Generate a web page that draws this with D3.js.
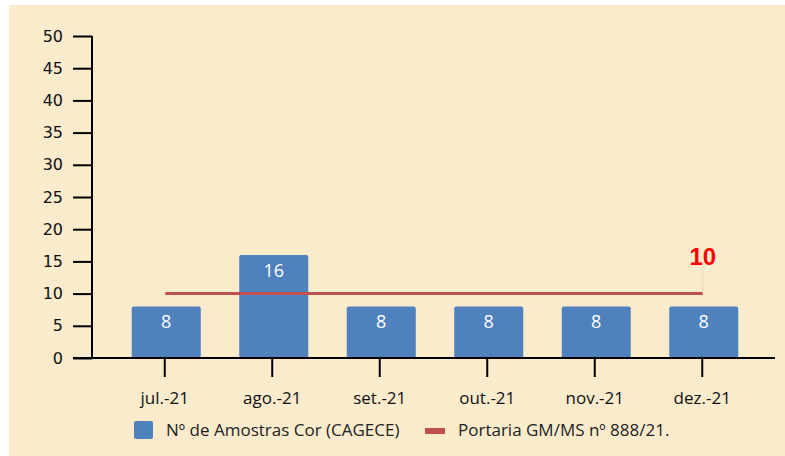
<!DOCTYPE html>
<html><head><meta charset="utf-8">
<script src="https://cdn.jsdelivr.net/npm/d3@7"></script>
<style>
html,body{margin:0;padding:0;background:#fff;}
svg{display:block;}
</style></head>
<body>
<svg id="chart" width="785" height="456"></svg>
<script>
const categories = ["jul.-21","ago.-21","set.-21","out.-21","nov.-21","dez.-21"];
const amostras = [8,16,8,8,8,8];
const portaria = [10,10,10,10,10,10];
const yTicks = [0,5,10,15,20,25,30,35,40,45,50];
const seriesNames = ["Nº de Amostras Cor (CAGECE)","Portaria GM/MS nº 888/21."];
const limitLabel = "10";

const svg = d3.select("#chart");
svg.append("rect").attr("x",9).attr("y",5).attr("width",776).attr("height",451).attr("fill","#FAEBCD");

const x = d3.scaleBand().domain(categories).range([112.5,757.5]).paddingInner(0.358).paddingOuter(0.179);
const y = d3.scaleLinear().domain([0,50]).range([358,36]);
const labelFont = "'Open Sans', sans-serif";

// bars
svg.selectAll("rect.bar").data(amostras).join("rect")
  .attr("class","bar")
  .attr("x",(d,i)=>x(categories[i]))
  .attr("y",d=>y(d))
  .attr("width",x.bandwidth())
  .attr("height",d=>y(0)-y(d))
  .attr("rx",2)
  .attr("fill","#4F81BD");

svg.selectAll("text.val").data(amostras).join("text")
  .attr("class","val")
  .attr("x",(d,i)=>x(categories[i])+x.bandwidth()/2)
  .attr("y",d=>y(d)+22)
  .attr("text-anchor","middle")
  .attr("fill","#fff")
  .style("font-family",labelFont)
  .style("font-size","18px")
  .text(d=>d);

// y axis
const yAxis = d3.axisLeft(y).tickValues(yTicks).tickSize(19).tickPadding(10);
const gy = svg.append("g").attr("transform","translate(92,0)").call(yAxis);
gy.select(".domain").attr("stroke","#000").attr("stroke-width",2).attr("d","M0,36V358");
gy.selectAll(".tick line").attr("stroke","#000").attr("stroke-width",2);
gy.selectAll(".tick text").attr("fill","#111").style("font-family","'DejaVu Sans', sans-serif").style("font-size","16px");

// x axis
const xAxis = d3.axisBottom(x).tickSize(19).tickPadding(15);
const gx = svg.append("g").attr("transform","translate(-1.5,358)").call(xAxis);
gx.select(".domain").remove();
gx.selectAll(".tick line").attr("stroke","#000").attr("stroke-width",2);
gx.selectAll(".tick text").attr("fill","#111").style("font-family",labelFont).style("font-size","17px");
svg.append("line").attr("x1",73).attr("x2",775).attr("y1",y(0)).attr("y2",y(0)).attr("stroke","#000").attr("stroke-width",2);

// limit line
const cx = (c)=>x(c)+x.bandwidth()/2 - 1;
const line = d3.line().x((d,i)=>cx(categories[i])).y(d=>y(d));
svg.append("path").datum(portaria).attr("d",line).attr("fill","none").attr("stroke","#C0504D").attr("stroke-width",3);

// leader & label
const last = categories.length-1;
svg.append("line").attr("x1",cx(categories[last])).attr("x2",cx(categories[last]))
  .attr("y1",y(portaria[last])-1).attr("y2",y(portaria[last])-25)
  .attr("stroke","#E8D5B0").attr("stroke-width",1);
svg.append("text").attr("x",cx(categories[last])).attr("y",y(portaria[last])-29)
  .attr("text-anchor","middle").attr("fill","#FF0000")
  .style("font-family","'Liberation Sans', Arial, sans-serif").style("font-weight","bold").style("font-size","24px")
  .text(limitLabel);

// legend
svg.append("rect").attr("x",134).attr("y",421).attr("width",19).attr("height",18).attr("rx",2).attr("fill","#4F81BD");
svg.append("text").attr("x",166).attr("y",436).attr("fill","#222").style("font-family",labelFont).style("font-size","17px").text(seriesNames[0]);
svg.append("rect").attr("x",425).attr("y",428).attr("width",20).attr("height",6).attr("fill","#C0504D");
svg.append("text").attr("x",458).attr("y",436).attr("fill","#222").style("font-family",labelFont).style("font-size","17px").text(seriesNames[1]);
</script>
</body></html>
